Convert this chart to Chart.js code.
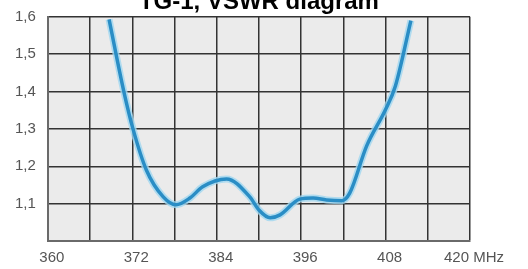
<!DOCTYPE html>
<html>
<head>
<meta charset="utf-8">
<script src="https://cdn.jsdelivr.net/npm/chart.js@4/dist/chart.umd.min.js"></script>
<style>
html,body{margin:0;padding:0;background:#fff;overflow:hidden;width:528px;height:269px;}
#c{display:block;margin-top:-12px;}
</style>
</head>
<body>
<canvas id="c" width="528" height="287"></canvas>
<script>
const chartTitle = 'TG-1, VSWR diagram';
const freqMHz = [368.7, 370.8, 372.1, 374.0, 376.4, 378.2, 380.2, 382.0, 385.4, 388.7, 390.0, 391.6, 393.0, 395.8, 397.7, 399.6, 401.8, 402.9, 405.3, 408.0, 409.4, 411.6];
const vswr    = [1.593, 1.40, 1.30, 1.19, 1.118, 1.097, 1.115, 1.145, 1.166, 1.118, 1.083, 1.062, 1.07, 1.112, 1.115, 1.11, 1.108, 1.128, 1.254, 1.352, 1.415, 1.59];
const xLabels = {360: '360', 372: '372', 384: '384', 396: '396', 408: '408', 420: '420 MHz'};
const yMin = 1.0, yMax = 1.6, yStep = 0.1;
const xMin = 360, xMax = 420, xStep = 6;

const points = freqMHz.map((f, i) => ({x: f, y: vswr[i]}));

const plotBg = {
  id: 'plotBg',
  beforeDraw(chart) {
    const {ctx, chartArea: a} = chart;
    ctx.save();
    ctx.fillStyle = '#ebebeb';
    ctx.fillRect(a.left, a.top, a.right - a.left, a.bottom - a.top);
    ctx.restore();
  }
};

new Chart(document.getElementById('c'), {
  type: 'line',
  data: {
    datasets: [
      {
        data: points,
        borderColor: '#2a8dc5',
        borderWidth: 3.5,
        pointRadius: 0,
        cubicInterpolationMode: 'monotone',
        fill: false,
        order: 0
      },
      {
        data: points,
        borderColor: 'rgba(160,215,240,0.8)',
        borderWidth: 7,
        pointRadius: 0,
        cubicInterpolationMode: 'monotone',
        fill: false,
        order: 1
      }
    ]
  },
  options: {
    responsive: false,
    animation: false,
    events: [],
    layout: {padding: {left: 15, right: 58, top: 0, bottom: 0}},
    plugins: {
      legend: {display: false},
      tooltip: {enabled: false},
      title: {
        display: true,
        fullSize: false,
        text: chartTitle,
        color: '#000',
        font: {family: 'Liberation Sans, Arial, sans-serif', size: 24, weight: 'bold'},
        padding: {top: 0, bottom: 0}
      }
    },
    scales: {
      x: {
        type: 'linear',
        min: xMin, max: xMax,
        ticks: {
          stepSize: xStep,
          autoSkip: false,
          maxRotation: 0,
          padding: 8,
          labelOffset: 4,
          color: '#555',
          font: {family: 'Liberation Sans, Arial, sans-serif', size: 15},
          callback: (v) => xLabels[Math.round(v)] || ''
        },
        grid: {color: '#333', lineWidth: 1.5, drawTicks: false, tickLength: 0},
        border: {display: true, color: '#6a6a6a', width: 2}
      },
      y: {
        min: yMin, max: yMax,
        ticks: {
          stepSize: yStep,
          padding: 6,
          crossAlign: 'far',
          color: '#555',
          font: {family: 'Liberation Sans, Arial, sans-serif', size: 15},
          callback: (v) => Math.abs(v - yMin) < 1e-6 ? '' : v.toFixed(1).replace('.', ',')
        },
        grid: {color: '#333', lineWidth: 1.5, drawTicks: false, tickLength: 0},
        border: {display: true, color: '#6a6a6a', width: 2}
      }
    }
  },
  plugins: [plotBg]
});
</script>
</body>
</html>
